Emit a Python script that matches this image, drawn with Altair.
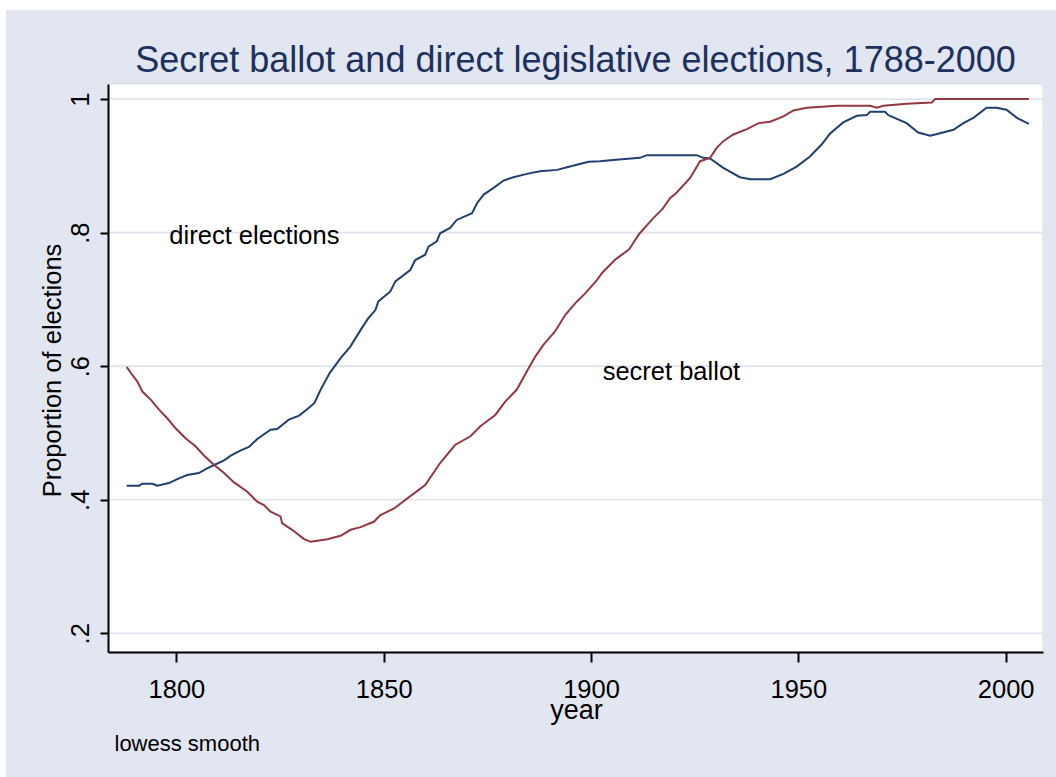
import altair as alt
import pandas as pd

# Lowess-smoothed proportions of elections, by year
years_direct = [1788, 1791, 1791.8, 1794.2, 1795.4, 1798.2, 1800.2, 1802.6, 1805.4, 1807.4,
                1809.1, 1811.5, 1813.1, 1815.5, 1817.5, 1819.5, 1822.7, 1824.3, 1827.1, 1829.6,
                1831.6, 1833.3, 1834.8, 1837.0, 1839.6, 1841.9, 1844.7, 1846.3, 1848.0, 1848.7,
                1851.6, 1852.8, 1856.4, 1857.6, 1860.0, 1860.8, 1862.8, 1863.6, 1866.0, 1867.6,
                1871.3, 1872.5, 1874.1, 1876.5, 1878.9, 1881.3, 1884.5, 1887.7, 1891.8, 1894.2,
                1899.4, 1902.2, 1906.0, 1911.8, 1913.5, 1925.5, 1927.1, 1928.7, 1931.9, 1935.9,
                1938.4, 1943.2, 1946.4, 1949.6, 1952.8, 1955.6, 1957.6, 1960.8, 1964.1, 1966.5,
                1967.3, 1970.9, 1971.7, 1976.1, 1978.9, 1981.8, 1983.0, 1987.4, 1989.8, 1992.2,
                1995.4, 1997.8, 2000.2, 2002.7, 2005.6]
direct = [0.421, 0.421, 0.424, 0.424, 0.421, 0.425, 0.431, 0.437, 0.440, 0.447,
          0.452, 0.459, 0.466, 0.474, 0.479, 0.491, 0.505, 0.506, 0.520, 0.526,
          0.536, 0.545, 0.565, 0.590, 0.612, 0.629, 0.657, 0.672, 0.684, 0.697,
          0.712, 0.727, 0.744, 0.759, 0.767, 0.779, 0.787, 0.799, 0.807, 0.819,
          0.829, 0.844, 0.857, 0.867, 0.878, 0.883, 0.888, 0.892, 0.894, 0.898,
          0.906, 0.907, 0.909, 0.912, 0.916, 0.916, 0.912, 0.911, 0.897, 0.883,
          0.880, 0.880, 0.888, 0.899, 0.914, 0.932, 0.948, 0.965, 0.975, 0.976,
          0.981, 0.981, 0.976, 0.964, 0.950, 0.945, 0.947, 0.954, 0.964, 0.972,
          0.987, 0.987, 0.984, 0.972, 0.963]

years_secret = [1788, 1789.0, 1790.6, 1791.8, 1793.8, 1795.8, 1797.8, 1799.8, 1802.2, 1804.6,
                1806.7, 1809.1, 1811.5, 1813.9, 1817.1, 1819.5, 1821.1, 1822.7, 1825.1, 1825.5,
                1827.9, 1830.8, 1832.4, 1836.4, 1839.6, 1842.0, 1844.4, 1847.6, 1849.2, 1852.5,
                1855.7, 1860.0, 1863.6, 1867.2, 1870.9, 1873.3, 1876.9, 1879.3, 1882.1, 1884.5,
                1886.5, 1888.5, 1891.3, 1893.8, 1896.6, 1898.6, 1901.4, 1902.7, 1905.9, 1909.2,
                1911.6, 1914.9, 1917.3, 1919.1, 1920.5, 1923.9, 1926.3, 1928.7, 1930.3, 1931.9,
                1934.3, 1937.6, 1940.4, 1943.2, 1946.4, 1948.8, 1952.0, 1959.3, 1967.3, 1968.9,
                1970.5, 1976.1, 1982.2, 1983.0, 2005.6]
secret = [0.599, 0.590, 0.577, 0.562, 0.550, 0.535, 0.522, 0.507, 0.492, 0.480,
          0.466, 0.452, 0.440, 0.426, 0.412, 0.397, 0.392, 0.382, 0.375, 0.365,
          0.355, 0.341, 0.337, 0.341, 0.346, 0.355, 0.359, 0.367, 0.377, 0.387,
          0.402, 0.422, 0.455, 0.482, 0.495, 0.510, 0.527, 0.547, 0.565, 0.592,
          0.614, 0.632, 0.652, 0.677, 0.697, 0.709, 0.729, 0.740, 0.760, 0.775,
          0.798, 0.821, 0.836, 0.852, 0.859, 0.882, 0.907, 0.912, 0.927, 0.937,
          0.947, 0.955, 0.964, 0.966, 0.974, 0.983, 0.987, 0.990, 0.990, 0.987,
          0.990, 0.993, 0.995, 1.000, 1.000]

series_names = ["direct elections", "secret ballot"]
series_colors = ["#223f72", "#943840"]

# In-plot labels: text, year of left edge, value at baseline
label_text = ["direct elections", "secret ballot"]
label_year = [1798.3, 1902.8]
label_value = [0.783, 0.580]

x_ticks = [1800, 1850, 1900, 1950, 2000]
y_ticks = [0.2, 0.4, 0.6, 0.8, 1.0]

FONT = "Liberation Sans"
BG = "#e2e6f0"
GRID = "#dfe4ee"
W, H = 935, 568

lines_df = pd.concat([
    pd.DataFrame({"year": years_direct, "value": direct, "series": series_names[0]}),
    pd.DataFrame({"year": years_secret, "value": secret, "series": series_names[1]}),
], ignore_index=True)
grid_df = pd.DataFrame({"value": y_ticks})
labels_df = pd.DataFrame({"year": label_year, "value": label_value, "label": label_text})
one_row = pd.DataFrame({"k": [0]})

x_scale = alt.Scale(domain=[1783.5, 2009.0], nice=False, zero=False)
y_scale = alt.Scale(domain=[0.172, 1.0226], nice=False, zero=False)

x_axis = alt.Axis(
    title="year", values=x_ticks, format="d", grid=False, zindex=1,
    labelFont=FONT, labelFontSize=25.5, labelColor="black",
    labelBaseline="alphabetic", labelPadding=35, labelFlush=False, labelOverlap=False,
    tickSize=10, tickWidth=2, tickColor="black",
    domainColor="black", domainWidth=2,
    titleFont=FONT, titleFontSize=27, titleFontWeight="normal", titleColor="black",
    titleBaseline="alphabetic", titleAlign="center", titleX=468, titleY=66,
)
# Stata-style tick labels: 1, .8, .6, .4, .2
y_axis = alt.Axis(
    title="Proportion of elections", values=y_ticks, grid=False, zindex=1,
    labelExpr="replace(format(datum.value, '.1~f'), '0.', '.')",
    labelFont=FONT, labelFontSize=25.5, labelColor="black",
    labelAngle=270, labelAlign="center", labelBaseline="alphabetic",
    labelPadding=12, labelFlush=False, labelOverlap=False,
    tickSize=8, tickWidth=2, tickColor="black",
    domainColor="black", domainWidth=2,
    titleFont=FONT, titleFontSize=25.5, titleFontWeight="normal", titleColor="black",
    titleAngle=270, titleAlign="center", titleBaseline="alphabetic",
    titleX=-48, titleY=286,
)

# graph region (light bluish gray) and white plot region
graph_region = alt.Chart(one_row).mark_rect(color=BG).encode(
    x=alt.value(-102), x2=alt.value(W + 30), y=alt.value(-74), y2=alt.value(H + 140)
)
plot_region = alt.Chart(one_row).mark_rect(
    fill="white", stroke="#d9dfea", strokeWidth=1
).encode(x=alt.value(0), x2=alt.value(W), y=alt.value(0), y2=alt.value(H))

grid = alt.Chart(grid_df).mark_rule(color=GRID, strokeWidth=1.7).encode(
    y=alt.Y("value:Q", scale=y_scale, axis=y_axis),
    x=alt.value(0), x2=alt.value(W),
)

lines = alt.Chart(lines_df).mark_line(strokeWidth=2, interpolate="linear").encode(
    x=alt.X("year:Q", scale=x_scale, axis=x_axis),
    y=alt.Y("value:Q", scale=y_scale, axis=y_axis),
    color=alt.Color("series:N", scale=alt.Scale(domain=series_names, range=series_colors),
                    legend=None),
    detail="series:N",
)

labels = alt.Chart(labels_df).mark_text(
    align="left", baseline="alphabetic", font=FONT, fontSize=25.5, color="black"
).encode(
    x=alt.X("year:Q", scale=x_scale, axis=x_axis),
    y=alt.Y("value:Q", scale=y_scale, axis=y_axis),
    text="label:N",
)

note = alt.Chart(one_row).mark_text(
    align="left", baseline="alphabetic", font=FONT, fontSize=22, color="black"
).encode(x=alt.value(6.5), y=alt.value(667), text=alt.value("lowess smooth"))

chart = alt.layer(graph_region, plot_region, grid, lines, labels, note).properties(
    width=W, height=H,
    title=alt.TitleParams(
        text="Secret ballot and direct legislative elections, 1788-2000",
        font=FONT, fontSize=36, fontWeight="normal", color="#1d3160",
        anchor="middle", frame="group", baseline="alphabetic", offset=0, dy=98,
    ),
    padding={"left": 108, "top": 84, "right": 13, "bottom": 125},
    autosize=alt.AutoSizeParams(type="none"),
).configure(background="white").configure_view(stroke=None)

chart.save("out.html", embed_options={"renderer": "svg", "actions": False})
